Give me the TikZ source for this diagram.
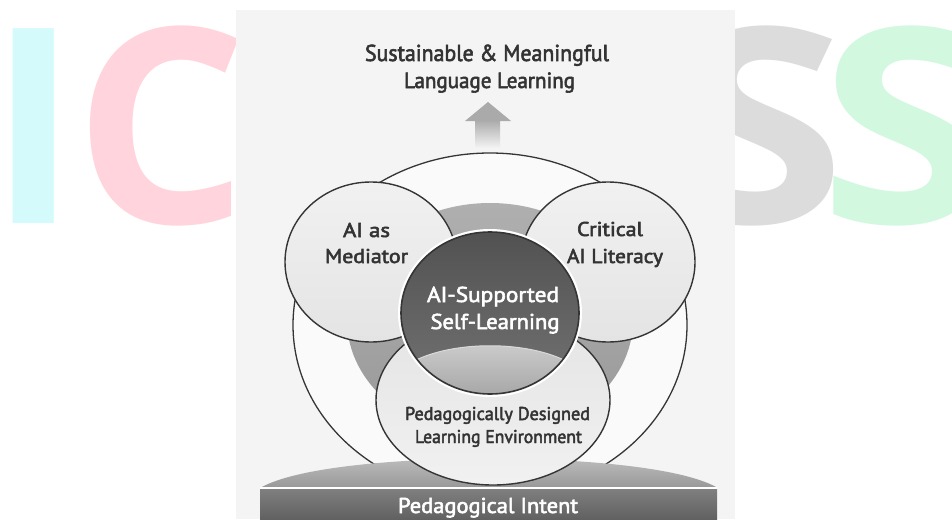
\documentclass[tikz,border=0pt]{standalone}
\usepackage{fontspec}
\setmainfont{PT Sans}
\newfontfamily\lbl{PT Sans}[FakeBold=2.6]
\newfontfamily\wmfont{Open Sans}
\usepackage{graphicx}
\newcommand{\fitw}[2]{\resizebox{#1}{\height}{#2}}
\definecolor{panelc}{HTML}{F4F4F4}
\definecolor{innerc}{HTML}{FAFAFA}
\definecolor{linec}{HTML}{353535}
\definecolor{textdark}{HTML}{333333}
\definecolor{ringc}{HTML}{A6A6A6}
\definecolor{lightc}{HTML}{EBEBEB}
\definecolor{wmcyan}{HTML}{D4FAFC}
\definecolor{wmpink}{HTML}{FFD4DC}
\definecolor{wmgray}{HTML}{DCDCDC}
\definecolor{wmgreen}{HTML}{D2F8E0}
\begin{document}
\begin{tikzpicture}[x=1pt,y=-1pt,
  wm/.style={inner sep=0pt, anchor=base west, font=\wmfont\bfseries\fontsize{273}{273}\selectfont},
  txt/.style={inner sep=0pt, anchor=base, text=textdark},
  wtxt/.style={inner sep=0pt, anchor=base, text=white},
  outl/.style={draw=linec, line width=1.4pt}]
\useasboundingbox (0,0) rectangle (952,519);
\begin{scope}
\clip (0,0) rectangle (952,519);
% watermark letters
\node[wm, text=wmcyan]  (wI)  at (-12,223) {I};
\node[wm, text=wmpink]  (wC)  at (74,223)  {C};
\node[wm, text=wmgray]  (wS1) at (674,223) {\scalebox{1.14}[1]{S}};
\node[wm, text=wmgreen] (wS2) at (819,223) {\scalebox{1.14}[1]{S}};
% panel
\fill[panelc] (236,10) rectangle (735,519);
% arrow
\shade[top color=ringc!95!white, bottom color=panelc] (475,120) rectangle (500,148);
\fill[ringc!95!white] (465,121) -- (488,102) -- (511,121) -- cycle;
% outer circle
\fill[innerc] (490,325) ellipse [x radius=197pt, y radius=172pt];
\draw[linec, line width=1.3pt] (490,325) ellipse [x radius=197pt, y radius=172pt];
% gray ring disc
\shade[top color=ringc!90!white, bottom color=ringc!92!black] (490,320) ellipse [x radius=143pt, y radius=117pt];
% base mound and bar
\shade[top color=black!22, bottom color=black!40] (262,487) .. controls (330,449) and (648,449) .. (716,487) -- cycle;
\fill[white] (260,486.5) rectangle (717,489);
\shade[top color=black!50, bottom color=black!62] (260,489) rectangle (717,519);
% side circles
\shade[top color=lightc!70!white, bottom color=lightc!97!black] (371,262) ellipse [x radius=86pt, y radius=80pt];
\draw[outl] (371,262) ellipse [x radius=86pt, y radius=80pt];
\shade[top color=lightc!70!white, bottom color=lightc!97!black] (608,262) ellipse [x radius=87pt, y radius=80pt];
\draw[outl] (608,262) ellipse [x radius=87pt, y radius=80pt];
% bottom ellipse
\shade[top color=lightc!97!black, bottom color=lightc!70!white] (493,400) ellipse [x radius=117pt, y radius=85pt];
\draw[outl] (493,400) ellipse [x radius=117pt, y radius=85pt];
% central circle
\draw[white, line width=6pt] (490,313) ellipse [x radius=89pt, y radius=81pt];
\shade[top color=black!68, bottom color=black!55] (490,313) ellipse [x radius=89pt, y radius=81pt];
\begin{scope}
\clip (490,313) ellipse [x radius=89pt, y radius=81pt];
\shade[top color=black!18, bottom color=black!36] (395,375) .. controls (430,336) and (550,336) .. (585,375) -- (585,400) -- (395,400) -- cycle;
\draw[white!85!black, line width=1pt] (395,375) .. controls (430,336) and (550,336) .. (585,375);
\end{scope}
\draw[linec, line width=1.6pt] (490,313) ellipse [x radius=89pt, y radius=81pt];
\end{scope}
% texts
\node[txt, font=\lbl\fontsize{23}{23}\selectfont] (t1) at (487,61) {\fitw{244pt}{Sustainable \& Meaningful}};
\node[txt, font=\lbl\fontsize{22}{22}\selectfont] (t2) at (489.5,88) {\fitw{171pt}{Language Learning}};
\node[txt, font=\lbl\fontsize{20}{20}\selectfont] (m1) at (366.5,237) {\fitw{47pt}{AI as}};
\node[txt, font=\lbl\fontsize{20}{20}\selectfont] (m2) at (366.5,263) {\fitw{83pt}{Mediator}};
\node[txt, font=\lbl\fontsize{20}{20}\selectfont] (c1) at (610,236) {\fitw{66pt}{Critical}};
\node[txt, font=\lbl\fontsize{20}{20}\selectfont] (c2) at (615,263) {\fitw{96pt}{AI Literacy}};
\node[wtxt, font=\lbl\fontsize{21.5}{21.5}\selectfont] (s1) at (493,302) {\fitw{132pt}{AI-Supported}};
\node[wtxt, font=\lbl\fontsize{21.5}{21.5}\selectfont] (s2) at (495,329) {\fitw{129pt}{Self-Learning}};
\node[txt, font=\lbl\fontsize{18.5}{18.5}\selectfont] (p1) at (497.5,420) {\fitw{185pt}{Pedagogically Designed}};
\node[txt, font=\lbl\fontsize{18.5}{18.5}\selectfont] (p2) at (498.5,443) {\fitw{167pt}{Learning Environment}};
\node[wtxt, font=\lbl\fontsize{21.5}{21.5}\selectfont] (b1) at (488,513) {\fitw{180pt}{Pedagogical Intent}};
\end{tikzpicture}
\end{document}
